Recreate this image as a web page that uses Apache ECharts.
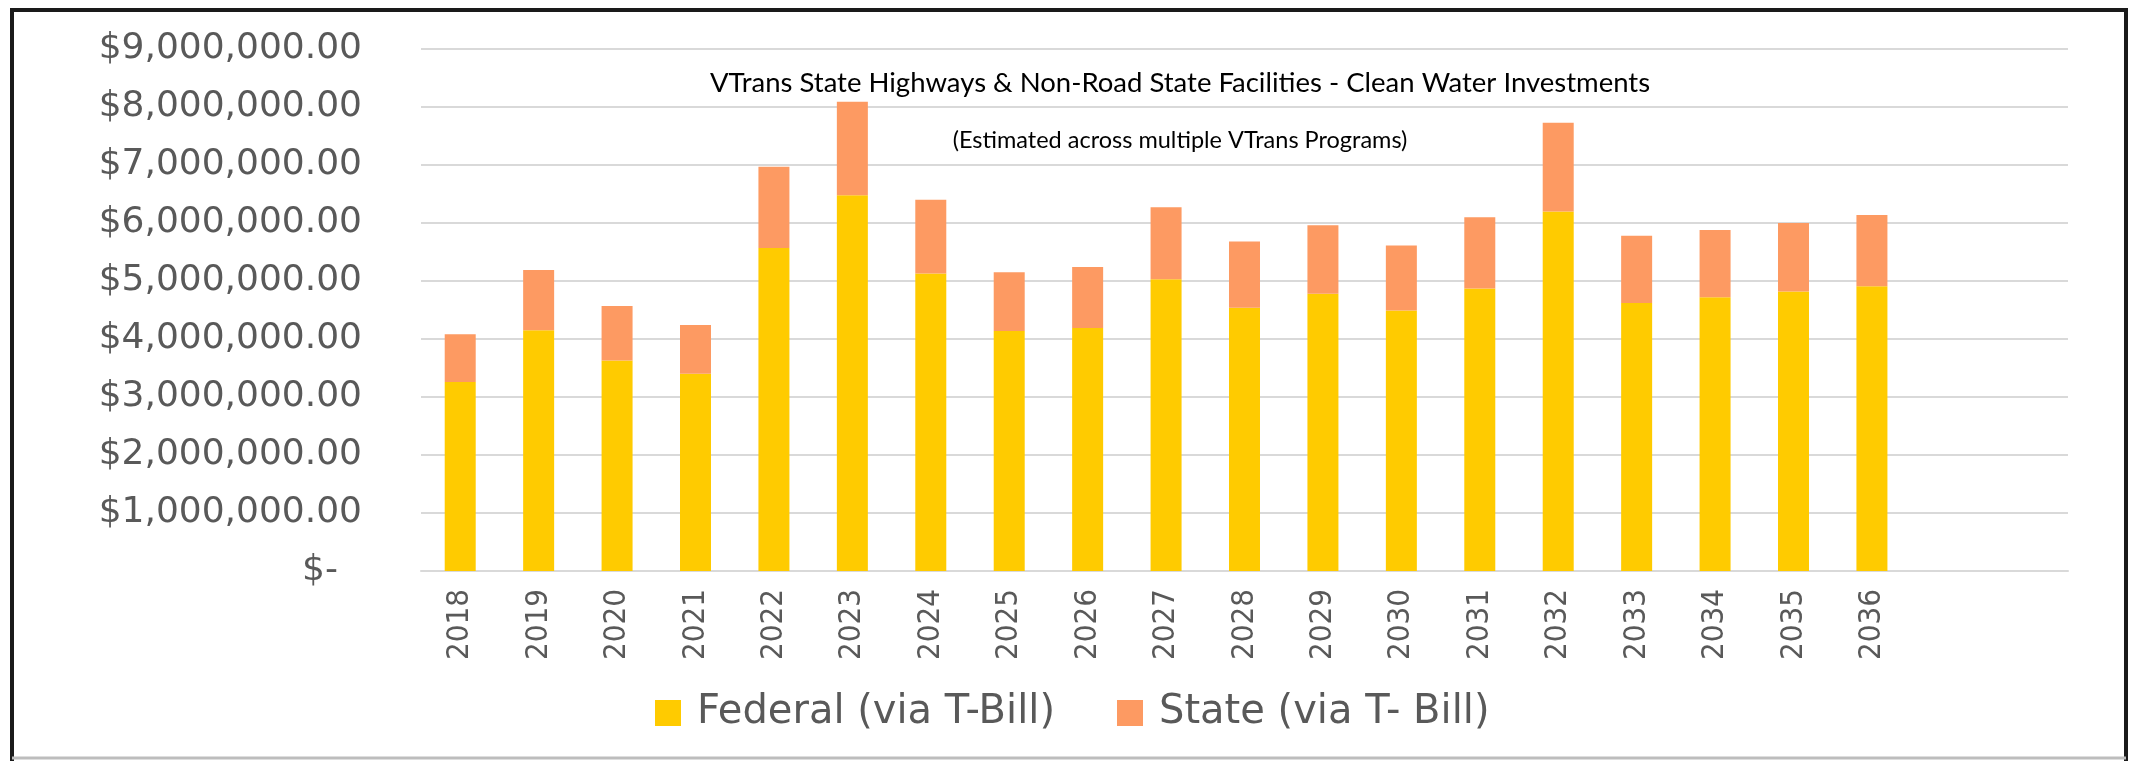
<!DOCTYPE html>
<html>
<head>
<meta charset="utf-8">
<style>
  html, body { margin: 0; padding: 0; background: #fff; }
  #main { width: 2129px; height: 761px; }
</style>
<script src="https://cdn.jsdelivr.net/npm/echarts@6/dist/echarts.min.js"></script>
</head>
<body>
<div id="main"></div>
<script>
const chart = echarts.init(document.getElementById("main"));

// years shown on the axis; the chart leaves two empty slots after 2036
const years = ["2018", "2019", "2020", "2021", "2022", "2023", "2024", "2025", "2026", "2027",
  "2028", "2029", "2030", "2031", "2032", "2033", "2034", "2035", "2036"];
const emptySlots = ["", ""];

// federal share (via T-Bill), dollars
const federal = [3260000, 4150000, 3630000, 3400000, 5570000, 6480000, 5130000, 4140000, 4190000, 5030000,
  4540000, 4780000, 4490000, 4870000, 6200000, 4620000, 4720000, 4820000, 4910000];
// state share (via T- Bill), dollars
const state = [820000, 1040000, 940000, 840000, 1400000, 1610000, 1270000, 1010000, 1050000, 1240000,
  1140000, 1180000, 1120000, 1230000, 1530000, 1160000, 1160000, 1180000, 1230000];

const gray = "#595959";

// Excel accounting style: zero shows as "$-" set in from the right edge
function money(v) {
  if (v === 0) return "{z|$-}";
  return "$" + v.toLocaleString("en-US", { minimumFractionDigits: 2, maximumFractionDigits: 2 });
}

const option = {
  animation: false,
  backgroundColor: "#fff",
  title: [
    {
      text: "VTrans State Highways & Non-Road State Facilities - Clean Water Investments",
      left: 1175,
      top: 64,
      textAlign: "center",
      textStyle: { fontFamily: "Lato", fontSize: 27.5, fontWeight: "normal", color: "#000" },
    },
    {
      text: "(Estimated across multiple VTrans Programs)",
      left: 1175,
      top: 123,
      textAlign: "center",
      textStyle: { fontFamily: "Lato", fontSize: 23.5, fontWeight: "normal", color: "#000" },
    },
  ],
  legend: {
    left: 650,
    top: 688,
    itemWidth: 26,
    itemHeight: 26,
    itemGap: 62,
    icon: "rect",
    textStyle: { fontFamily: "DejaVu Sans", fontSize: 40, color: gray, padding: [0, 0, 0, 11] },
    data: ["Federal (via T-Bill)", "State (via T- Bill)"],
  },
  grid: { left: 421, right: 61, top: 49, bottom: 190, containLabel: false },
  xAxis: {
    type: "category",
    data: [...years, ...emptySlots],
    axisTick: { show: false },
    axisLine: { lineStyle: { color: "#d9d9d9", width: 2 } },
    axisLabel: {
      rotate: 90,
      margin: 18,
      interval: 0,
      fontFamily: "DejaVu Sans Condensed",
      fontSize: 31,
      color: gray,
    },
  },
  yAxis: {
    type: "value",
    min: 0,
    max: 9000000,
    interval: 1000000,
    axisLine: { show: false },
    axisTick: { show: false },
    splitLine: { lineStyle: { color: "#d9d9d9", width: 2 } },
    axisLabel: {
      margin: 59,
      fontFamily: "DejaVu Sans",
      fontSize: 36,
      color: gray,
      formatter: money,
      rich: { z: { fontFamily: "DejaVu Sans", fontSize: 36, color: gray, padding: [0, 24, 0, 0] } },
    },
  },
  series: [
    {
      name: "Federal (via T-Bill)",
      type: "bar",
      stack: "total",
      barWidth: 31,
      itemStyle: { color: "#ffcb00" },
      data: federal,
    },
    {
      name: "State (via T- Bill)",
      type: "bar",
      stack: "total",
      barWidth: 31,
      itemStyle: { color: "#fd9a62" },
      data: state,
    },
  ],
  graphic: [
    {
      type: "rect",
      shape: { x: 12, y: 10, width: 2114, height: 760 },
      style: { fill: "none", stroke: "#1a1a1a", lineWidth: 4 },
      silent: true,
    },
    {
      type: "line",
      shape: { x1: 12, y1: 758, x2: 2126, y2: 758 },
      style: { stroke: "#bdbdbd", lineWidth: 3 },
      silent: true,
    },
  ],
};

chart.setOption(option);
</script>
</body>
</html>
